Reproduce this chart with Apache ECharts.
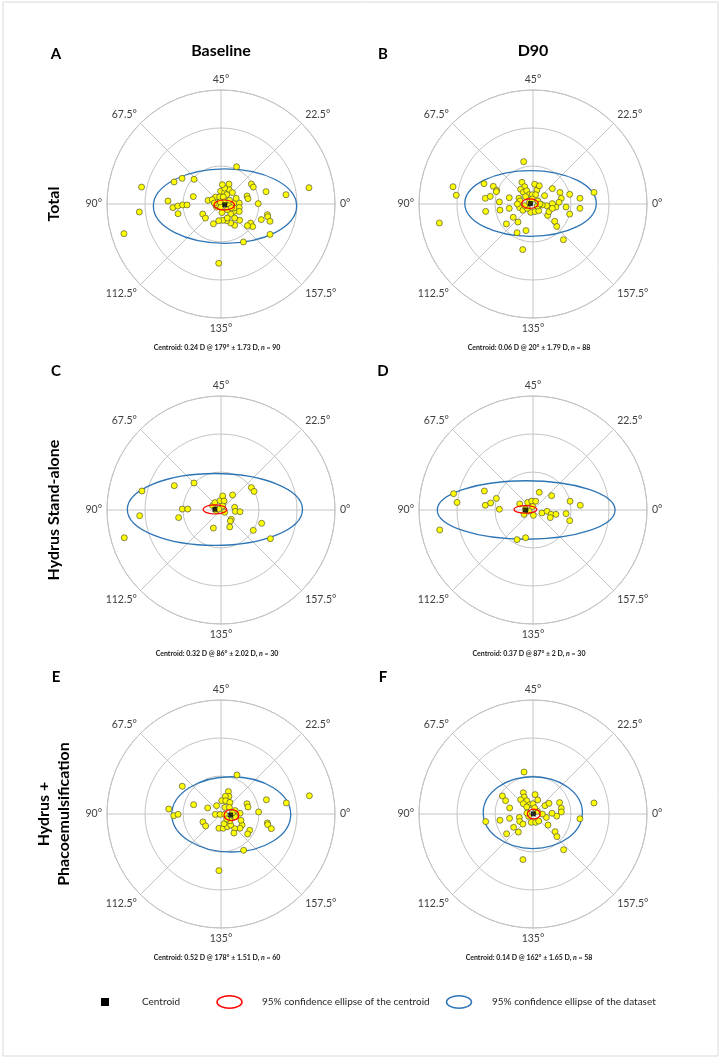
<!DOCTYPE html>
<html>
<head>
<meta charset="utf-8">
<title>Astigmatism double-angle plots</title>
<script src="https://cdn.jsdelivr.net/npm/echarts@6.0.0/dist/echarts.min.js"></script>
<style>
    html, body { margin: 0; padding: 0; background: #fff; }
    #astig_plot { width: 722px; height: 1059px; }
</style>
</head>
<body>
<div id="astig_plot"></div>
<script>

// Chart data (dioptres, double-angle plot: x = J0-like, y = J45-like)
// ------------------------------

var angleLabels = ['0°', '22.5°', '45°', '67.5°', '90°', '112.5°', '135°', '157.5°'];
var ringValues = [2, 4, 6];

var columnTitles = ['Baseline', 'D90'];
var rowTitles = ['Total', 'Hydrus Stand-alone', 'Hydrus +\nPhacoemulsification'];
var panelLetters = ['A', 'B', 'C', 'D', 'E', 'F'];

var centroidCaptions = [
    ['Centroid: 0.24 D @ 179° ± 1.73 D, ', '90'],
    ['Centroid: 0.06 D @ 20° ± 1.79 D, ', '88'],
    ['Centroid: 0.32 D @ 86° ± 2.02 D, ', '30'],
    ['Centroid: 0.37 D @ 87° ± 2 D, ', '30'],
    ['Centroid: 0.52 D @ 178° ± 1.51 D, ', '60'],
    ['Centroid: 0.14 D @ 162° ± 1.65 D, ', '58']
];

var totalBaseline = [
    [0.82,1.96],[-4.18,0.89],[-2.47,1.16],[-2.05,1.35],[-1.42,1.30],[1.60,1.05],[1.70,0.89],[2.37,0.65],
    [3.42,0.49],[4.63,0.86],[-1.46,0.39],[-2.79,0.16],[-4.30,-0.42],[-5.11,-1.56],[-2.53,-0.19],[-2.28,-0.11],
    [-2.02,-0.05],[-1.79,-0.05],[-2.26,-0.51],[-0.96,-0.53],[-0.82,-0.74],[-0.40,-1.04],[1.96,0.02],[1.37,0.42],
    [1.42,0.28],[2.44,-0.56],[2.46,-0.67],[2.12,-0.82],[2.58,-0.91],[2.58,-1.60],[1.18,-2.00],[-0.12,-3.12],
    [1.56,-1.00],[1.67,-1.19],[1.39,-1.14],[0.98,-0.86],[0.72,-1.12],[0.51,-1.00],[0.30,-0.88],[0.09,-0.86],
    [-0.12,-0.88],[-0.02,0.67],[0.19,0.61],[0.42,0.77],[0.42,1.05],[0.19,0.84],[0.60,0.60],[0.30,0.49],
    [-0.28,0.37],[-0.07,0.37],[0.12,0.37],[-0.68,0.19],[-0.46,0.23],[-0.23,-0.16],[-0.02,-0.16],[0.42,-0.04],
    [0.68,0.05],[0.96,0.05],[0.96,-0.18],[0.96,-0.39],[0.68,-0.39],[0.51,-0.53],[0.72,-0.74],[0.33,-0.74],
    [0.68,-0.21],[0.19,0.11],[0.33,-0.30],[-0.28,-0.04],[-0.05,0.11],[0.07,1.02],[0.45,0.20],[0.55,-0.20],
    [0.05,-0.45],[-0.35,0.05],[0.80,0.30]
];

var totalD90 = [
    [-0.49,2.23],[-4.21,0.91],[-4.04,0.46],[-4.93,-1.00],[-2.58,1.07],[-2.09,0.93],[-1.91,0.72],[-1.93,0.65],
    [-2.51,0.30],[-2.25,0.40],[-1.77,0.11],[-2.49,-0.39],[-1.74,-0.32],[-1.25,0.33],[-1.25,-0.23],[-1.04,-0.70],
    [-1.40,-1.05],[-0.79,-0.95],[-0.84,-1.51],[-0.37,-1.40],[-0.54,-2.40],[1.60,-1.88],[1.25,-1.18],[1.14,-0.91],
    [0.77,-0.60],[0.84,-0.40],[1.21,-0.16],[1.02,0.02],[1.02,-0.23],[0.72,-0.09],[0.49,-0.05],[1.74,-0.16],
    [1.93,-0.53],[2.47,-0.23],[2.47,0.30],[1.93,0.51],[1.49,0.30],[1.42,0.61],[1.37,0.09],[3.21,0.61],
    [1.02,0.81],[0.61,0.44],[0.21,0.74],[0.09,1.04],[0.33,0.96],[-0.58,1.14],[-0.44,0.91],[-0.65,0.77],
    [-0.51,0.61],[-0.33,0.70],[-0.21,0.49],[-0.04,0.49],[0.14,0.49],[-0.39,0.39],[-0.74,0.30],[-0.70,-0.19],
    [-0.53,-0.33],[-0.12,-0.44],[0.11,-0.40],[0.30,-0.35],[-0.68,0.16],[-0.30,-0.23],[0.23,-0.11],[-0.44,-0.09],
    [-0.19,0.09],[-0.82,0.00],[0.26,0.16],[0.37,0.00],[-0.04,0.26]
];

var standaloneBaseline = [
    [-2.46,1.28],[-1.42,1.42],[-4.16,1.00],[-4.28,-0.30],[-5.09,-1.46],[-2.04,0.05],[-1.75,0.05],[-2.23,-0.40],
    [-0.40,-0.95],[-0.44,0.23],[-0.32,0.39],[-0.05,0.49],[0.09,0.74],[0.16,0.47],[0.09,0.21],[0.19,-0.12],
    [-0.26,-0.02],[0.61,0.79],[0.72,0.14],[0.75,-0.07],[1.00,-0.09],[0.54,-0.49],[0.49,-0.58],[0.46,-0.89],
    [1.60,1.18],[1.74,0.98],[2.14,-0.70],[1.70,-1.07],[2.60,-1.51],[-0.12,0.05]
];

var standaloneD90 = [
    [-4.18,0.86],[-4.00,0.40],[-4.91,-1.05],[-2.56,1.00],[-2.51,0.25],[-2.23,0.37],[-1.93,0.61],[-1.77,0.04],
    [-0.70,0.32],[-0.28,0.40],[-0.07,0.47],[0.14,0.46],[0.33,0.93],[0.98,0.75],[1.95,0.46],[2.49,0.25],
    [0.47,-0.16],[0.74,-0.07],[0.95,-0.23],[1.21,-0.23],[0.91,-0.40],[1.74,-0.19],[1.93,-0.56],[-0.84,-1.56],
    [-0.39,-1.46],[-0.47,-0.23],[0.02,-0.28],[-0.21,-0.05],[-0.40,0.05],[-0.02,0.18]
];

var phacoBaseline = [
    [0.84,2.05],[-2.04,1.46],[4.65,0.96],[3.44,0.58],[2.39,0.75],[1.37,0.54],[1.42,0.37],[1.98,0.11],
    [2.44,-0.47],[2.46,-0.56],[2.65,-0.77],[1.51,-0.86],[1.40,-1.05],[1.11,-0.58],[1.00,-0.75],[0.72,-0.77],
    [0.68,-1.00],[1.19,-1.91],[-0.11,-2.98],[-2.75,0.26],[-2.49,-0.09],[-2.26,-0.02],[-1.44,0.49],[-0.95,-0.42],
    [-0.81,-0.63],[-0.70,0.32],[-0.11,-0.75],[0.12,-0.75],[0.33,-0.67],[0.51,-0.58],[0.16,-0.51],[-0.30,-0.02],
    [-0.05,-0.02],[0.19,-0.02],[0.39,1.18],[0.42,0.93],[0.23,0.93],[0.04,0.70],[0.25,0.70],[0.47,0.61],
    [-0.23,0.44],[0.21,0.35],[0.44,0.35],[0.74,0.18],[1.00,0.04],[0.74,-0.14],[1.05,-0.33],[0.47,-0.35],
    [0.30,-0.26],[0.60,0.05]
];

var phacoD90 = [
    [-0.47,2.21],[-1.61,0.95],[-1.44,0.70],[-2.49,-0.40],[-1.74,-0.33],[-1.39,-1.04],[-1.02,-0.70],[-0.77,-0.95],
    [-1.23,0.32],[-1.23,-0.23],[-0.72,-0.18],[-0.70,-0.39],[-0.53,-0.53],[-0.51,1.12],[-0.46,0.89],[-0.65,0.75],
    [-0.33,0.70],[-0.51,0.54],[-0.18,0.49],[0.00,0.54],[-0.33,0.37],[0.11,1.02],[0.25,0.74],[0.63,0.44],
    [0.84,0.56],[1.40,0.60],[1.49,0.30],[1.49,0.11],[1.25,-0.11],[1.00,0.04],[0.70,-0.18],[0.49,0.00],
    [0.79,-0.58],[1.16,-0.93],[1.26,-1.19],[1.61,-1.88],[-0.53,-2.40],[3.21,0.58],[2.47,-0.25],[-0.09,-0.44],
    [0.14,-0.44],[0.30,-0.37],[-0.23,-0.12],[0.23,0.14],[-0.32,0.05],[0.09,0.32]
];

// [centre x, centre y, semi-axis x, semi-axis y]
var datasetEllipses = [
    [0.21, -0.11, 3.77, 1.96],
    [-0.13, 0.03, 3.46, 1.73],
    [-0.32, 0.03, 4.61, 1.89],
    [-0.36, 0.00, 4.68, 1.54],
    [0.54, -0.02, 3.13, 1.98],
    [-0.01, 0.07, 2.61, 1.89]
];

var centroidEllipses = [
    [0.17, -0.05, 0.54, 0.26],
    [-0.16, 0.02, 0.44, 0.25],
    [-0.32, 0.03, 0.62, 0.24],
    [-0.40, 0.03, 0.60, 0.20],
    [0.55, -0.06, 0.39, 0.29],
    [0.04, 0.00, 0.34, 0.26]
];

var centroids = [
    [0.20, -0.04],
    [-0.14, 0.02],
    [-0.32, 0.04],
    [-0.39, 0.00],
    [0.51, -0.05],
    [0.02, 0.01]
];

var panelPoints = [totalBaseline, totalD90, standaloneBaseline, standaloneD90, phacoBaseline, phacoD90];


// Setup module
// ------------------------------

var AstigPlots = function() {

    var _astigPlots = function() {
        if (typeof echarts == 'undefined') {
            console.warn('Warning - echarts.min.js is not loaded.');
            return;
        }

        var plot_element = document.getElementById('astig_plot');
        if (!plot_element) return;

        var plot = echarts.init(plot_element);

        // Layout
        var colX = [221, 533];
        var rowY = [204, 510, 814];
        var R = 114;
        var gridColor = '#c4c4c4';
        var labelFont = 'Lato, "Open Sans", sans-serif';

        var polar = [], angleAxis = [], radiusAxis = [];
        var grid = [], xAxis = [], yAxis = [];
        var series = [];
        var graphic = [];

        // Outer frame
        graphic.push({
            type: 'rect',
            shape: { x: 3, y: 2, width: 715, height: 1054 },
            style: { fill: 'none', stroke: '#d9d9d9', lineWidth: 1 },
            silent: true
        });

        var ellipseSeries = function(idx, values, color, width, z) {
            return {
                type: 'custom',
                xAxisIndex: idx,
                yAxisIndex: idx,
                clip: false,
                z: z,
                silent: true,
                data: [values],
                renderItem: function(params, api) {
                    var c = api.coord([api.value(0), api.value(1)]);
                    var s = api.size([api.value(2), api.value(3)]);
                    return {
                        type: 'ellipse',
                        shape: { cx: c[0], cy: c[1], rx: s[0], ry: s[1] },
                        style: { fill: 'none', stroke: color, lineWidth: width }
                    };
                }
            };
        };

        for (var i = 0; i < 6; i++) {
            var cx = colX[i % 2];
            var cy = rowY[Math.floor(i / 2)];

            // Polar background
            polar.push({ center: [cx, cy], radius: R });
            angleAxis.push({
                polarIndex: i,
                type: 'value',
                min: 0,
                max: 360,
                interval: 45,
                startAngle: 0,
                clockwise: false,
                axisLine: { lineStyle: { color: gridColor, width: 1 } },
                axisTick: { show: false },
                splitLine: { show: true, lineStyle: { color: gridColor, width: 1 } },
                axisLabel: {
                    margin: 5,
                    color: '#404040',
                    fontSize: 10.5,
                    fontFamily: labelFont,
                    formatter: function(v) {
                        return v >= 360 ? '' : angleLabels[Math.round(v / 45)];
                    }
                }
            });
            radiusAxis.push({
                polarIndex: i,
                type: 'value',
                min: 0,
                max: ringValues[ringValues.length - 1],
                interval: ringValues[1] - ringValues[0],
                axisLine: { show: false },
                axisTick: { show: false },
                axisLabel: { show: false },
                splitLine: { show: true, lineStyle: { color: gridColor, width: 1 } }
            });

            // Cartesian overlay for the data
            grid.push({ left: cx - R, top: cy - R, width: 2 * R, height: 2 * R });
            xAxis.push({ gridIndex: i, type: 'value', min: -6, max: 6, show: false });
            yAxis.push({ gridIndex: i, type: 'value', min: -6, max: 6, show: false });

            series.push(ellipseSeries(i, datasetEllipses[i], '#2e75b6', 1.3, 2));
            series.push({
                type: 'scatter',
                xAxisIndex: i,
                yAxisIndex: i,
                symbolSize: 6,
                z: 3,
                silent: true,
                itemStyle: { color: '#ffff00', borderColor: '#55553a', borderWidth: 0.7, opacity: 1 },
                data: panelPoints[i]
            });
            series.push(ellipseSeries(i, centroidEllipses[i], '#ff0000', 1.2, 4));
            series.push({
                type: 'scatter',
                xAxisIndex: i,
                yAxisIndex: i,
                symbol: 'rect',
                symbolSize: 5,
                z: 5,
                silent: true,
                itemStyle: { color: '#000' },
                data: [centroids[i]]
            });

            // Panel letter
            graphic.push({
                type: 'text',
                x: i % 2 === 0 ? 56 : 383,
                y: [54, 371, 677][Math.floor(i / 2)],
                style: {
                    text: panelLetters[i],
                    fontFamily: labelFont, fontWeight: 'bold', fontSize: 15,
                    fill: '#000', textAlign: 'center', textVerticalAlign: 'middle'
                }
            });

            // Centroid caption
            graphic.push({
                type: 'text',
                x: cx - 4,
                y: cy + 144,
                style: {
                    text: '{b|' + centroidCaptions[i][0] + '}{i|n}{b| = ' + centroidCaptions[i][1] + '}',
                    textAlign: 'center', textVerticalAlign: 'middle',
                    rich: {
                        b: { fontFamily: labelFont, fontWeight: 'bold', fontSize: 7, fill: '#1a1a1a' },
                        i: { fontFamily: labelFont, fontWeight: 'bold', fontStyle: 'italic', fontSize: 7, fill: '#1a1a1a' }
                    }
                }
            });
        }

        // Column titles
        columnTitles.forEach(function(t, k) {
            graphic.push({
                type: 'text',
                x: colX[k],
                y: 51,
                style: {
                    text: t, fontFamily: labelFont, fontWeight: 'bold', fontSize: 16,
                    fill: '#000', textAlign: 'center', textVerticalAlign: 'middle'
                }
            });
        });

        // Row titles (rotated)
        rowTitles.forEach(function(t, k) {
            graphic.push({
                type: 'text',
                x: 54,
                y: rowY[k],
                rotation: Math.PI / 2,
                style: {
                    text: t, fontFamily: labelFont, fontWeight: 'bold', fontSize: 16,
                    lineHeight: 20, fill: '#000', textAlign: 'center', textVerticalAlign: 'middle'
                }
            });
        });

        // Legend
        var legendY = 1002;
        graphic.push(
            { type: 'rect', shape: { x: 101, y: legendY - 4, width: 8, height: 8 }, style: { fill: '#000' } },
            { type: 'text', x: 142, y: legendY, style: { text: 'Centroid', fontFamily: labelFont, fontSize: 10, fill: '#262626', textVerticalAlign: 'middle' } },
            { type: 'ellipse', shape: { cx: 229.5, cy: legendY, rx: 12.5, ry: 6.3 }, style: { fill: 'none', stroke: '#ff0000', lineWidth: 1.5 } },
            { type: 'text', x: 262, y: legendY, style: { text: '95% confidence ellipse of the centroid', fontFamily: labelFont, fontSize: 10, fill: '#262626', textVerticalAlign: 'middle' } },
            { type: 'ellipse', shape: { cx: 459, cy: legendY, rx: 12.5, ry: 6.3 }, style: { fill: 'none', stroke: '#2e75b6', lineWidth: 1.5 } },
            { type: 'text', x: 492, y: legendY, style: { text: '95% confidence ellipse of the dataset', fontFamily: labelFont, fontSize: 10, fill: '#262626', textVerticalAlign: 'middle' } }
        );

        plot.setOption({
            animation: false,
            backgroundColor: '#ffffff',
            polar: polar,
            angleAxis: angleAxis,
            radiusAxis: radiusAxis,
            grid: grid,
            xAxis: xAxis,
            yAxis: yAxis,
            series: series,
            graphic: graphic
        });
    };

    return {
        init: function() {
            _astigPlots();
        }
    };
}();


// Initialize module
// ------------------------------

document.addEventListener('DOMContentLoaded', function() {
    AstigPlots.init();
});
</script>
</body>
</html>
